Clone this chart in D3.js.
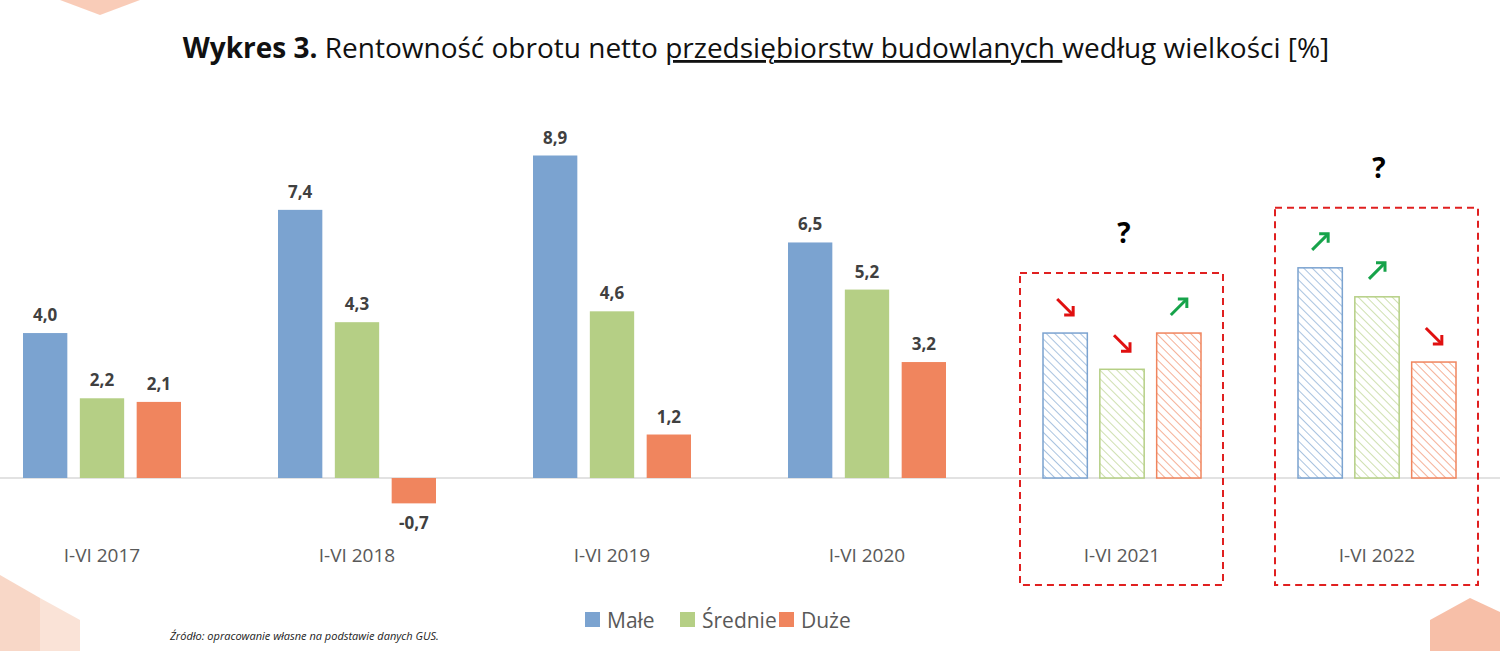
<!DOCTYPE html>
<html><head><meta charset="utf-8">
<script src="https://cdn.jsdelivr.net/npm/d3@7"></script>
<style>body{margin:0;background:#fff}svg{font-family:"Open Sans",sans-serif}</style>
</head><body><div id="chart"></div>
<script>
const width = 1500, height = 651;
const periods = ["I-VI 2017","I-VI 2018","I-VI 2019","I-VI 2020","I-VI 2021","I-VI 2022"];
const series = ["Małe","Średnie","Duże"];
const colors = ["#7BA3D0","#B5CF85","#F0855E"];
const male    = [4.0, 7.4, 8.9, 6.5, 4.0, 5.8];
const srednie = [2.2, 4.3, 4.6, 5.2, 3.0, 5.0];
const duze    = [2.1, -0.7, 1.2, 3.2, 4.0, 3.2];
const forecast = [false,false,false,false,true,true];
// arrows for forecast bars: 1 = up, -1 = down
const arrows2021 = [-1,-1,1];
const arrows2022 = [1,1,-1];

const svg = d3.select("#chart").append("svg").attr("width", width).attr("height", height);

// hatch patterns
const defs = svg.append("defs");
colors.forEach((c,i) => {
  const p = defs.append("pattern").attr("id","h"+i).attr("patternUnits","userSpaceOnUse")
    .attr("width",6).attr("height",6).attr("patternTransform","rotate(-45)");
  p.append("rect").attr("width",6).attr("height",6).attr("fill","#fff");
  p.append("line").attr("x1",0).attr("y1",0).attr("x2",0).attr("y2",6).attr("stroke",c).attr("stroke-width",1.3);
});

// corner decorations
const deco = svg.append("g").attr("opacity",0.55);
deco.append("polygon").attr("points","0,575 40,598 40,651 0,651").attr("fill","#F4B89A");
deco.append("polygon").attr("points","40,598 80,620 80,651 40,651").attr("fill","#F7CDB8");
deco.append("polygon").attr("points","60,0 100,15 140,0").attr("fill","#F4A27E");
deco.append("polygon").attr("points","1430,620 1470,598 1500,612 1500,651 1430,651").attr("fill","#F08B60");

const x0 = d3.scaleBand().domain(periods).range([-25.5, 1504.5]);
const x1 = d3.scaleBand().domain(series).range([0,158]).paddingInner(0.22);
const y = d3.scaleLinear().domain([0, 8.9]).range([478, 155.5]);

svg.append("line").attr("x1",0).attr("x2",width).attr("y1",y(0)).attr("y2",y(0)).attr("stroke","#d9d9d9").attr("stroke-width",1.5);

const data = periods.map((p,i) => ({p, f: forecast[i], vals: [male[i], srednie[i], duze[i]]}));
const groups = svg.append("g").selectAll("g").data(data).join("g")
  .attr("transform", d => `translate(${x0(d.p) + x0.bandwidth()/2 - 79},0)`);

groups.selectAll("rect").data(d => d.vals.map((v,j) => ({v, j, f: d.f}))).join("rect")
  .attr("x", d => x1(series[d.j]))
  .attr("width", x1.bandwidth())
  .attr("y", d => y(Math.max(0,d.v)))
  .attr("height", d => Math.abs(y(d.v) - y(0)))
  .attr("fill", d => d.f ? `url(#h${d.j})` : colors[d.j])
  .attr("stroke", d => d.f ? colors[d.j] : "none")
  .attr("stroke-width", 1.5);

groups.filter(d => !d.f).selectAll("text.v").data(d => d.vals.map((v,j) => ({v,j}))).join("text")
  .attr("x", d => x1(series[d.j]) + x1.bandwidth()/2)
  .attr("y", d => d.v >= 0 ? y(d.v) - 12 : y(d.v) + 26)
  .attr("text-anchor","middle").attr("font-size",17).attr("font-weight",700).attr("fill","#404040")
  .text(d => d.v.toFixed(1).replace(".",","));

svg.selectAll("text.cat").data(periods).join("text")
  .attr("x", d => x0(d) + x0.bandwidth()/2).attr("y", 562)
  .attr("text-anchor","middle").attr("font-size",19).attr("fill","#595959").text(d => d);

// forecast boxes, arrows, question marks
const fc = data.filter(d => d.f);
const arrowSets = [arrows2021, arrows2022];
fc.forEach((d,k) => {
  const gx = x0(d.p) + x0.bandwidth()/2 - 79;
  const top = y(d3.max(d.vals)) - 60;
  svg.append("rect").attr("x", gx - 23).attr("y", top).attr("width", 203).attr("height", 585 - top)
    .attr("fill","none").attr("stroke","#E02020").attr("stroke-width",2).attr("stroke-dasharray","7,5");
  svg.append("text").attr("x", gx + 81).attr("y", top - 30).attr("text-anchor","middle")
    .attr("font-size",28).attr("font-weight",700).text("?");
  d.vals.forEach((v,j) => {
    const cx = gx + x1(series[j]) + x1.bandwidth()/2;
    const yb = y(v) - 26;
    const up = arrowSets[k][j] > 0;
    const col = up ? "#16A34A" : "#E01010";
    const x1p = cx - 8, x2p = cx + 8;
    const y1p = up ? yb + 8 : yb - 8, y2p = up ? yb - 8 : yb + 8;
    svg.append("line").attr("x1",x1p).attr("y1",y1p).attr("x2",x2p).attr("y2",y2p).attr("stroke",col).attr("stroke-width",3);
    const hy = up ? y2p + 9 : y2p - 9;
    svg.append("polyline").attr("points",`${x2p-9},${y2p} ${x2p},${y2p} ${x2p},${hy}`)
      .attr("fill","none").attr("stroke",col).attr("stroke-width",3);
  });
});

// title
const t = svg.append("text").attr("x", 756).attr("y", 58).attr("text-anchor","middle").attr("font-size",28).attr("fill","#111");
t.append("tspan").attr("font-weight",700).text("Wykres 3. ");
t.append("tspan").text("Rentowność obrotu netto ");
t.append("tspan").attr("text-decoration","underline").text("przedsiębiorstw budowlanych ");
t.append("tspan").text("według wielkości [%]");

// legend
const lx = [585, 680, 779];
series.forEach((s,i) => {
  svg.append("rect").attr("x", lx[i]).attr("y", 612).attr("width",15).attr("height",15).attr("fill",colors[i]);
  svg.append("text").attr("x", lx[i] + 22).attr("y", 628).attr("font-size",21).attr("fill","#595959").text(s);
});

svg.append("text").attr("x",170).attr("y",640).attr("font-size",11).attr("font-style","italic").attr("fill","#222")
  .text("Źródło: opracowanie własne na podstawie danych GUS.");
</script></body></html>
